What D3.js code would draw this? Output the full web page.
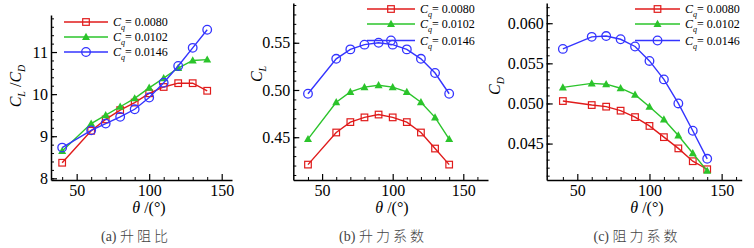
<!DOCTYPE html>
<html>
<head>
<meta charset="utf-8">
<script src="https://cdn.jsdelivr.net/npm/d3@7"></script>
<style>
  body { margin: 0; background: #fff; }
  svg { display: block; }
  .axis path, .axis line { stroke: #000; }
  .serif { font-family: "Liberation Serif", "DejaVu Serif", serif; }
  .axis .tick text { font-family: "Liberation Serif", "DejaVu Serif", serif; font-size: 16px; fill: #000; }
</style>
</head>
<body>
<div id="chart"></div>
<script>
// angles (deg)
const theta = [40, 60, 70, 80, 90, 100, 110, 120, 130, 140];
const cqLabels = ["0.0080", "0.0102", "0.0146"];
const colors = ["#e01b1b", "#2bc42b", "#3434ff"];

// (a) lift-drag ratio
const ldRatio = [
  [8.37, 9.13, 9.40, 9.62, 9.80, 10.02, 10.17, 10.26, 10.26, 10.08],
  [8.65, 9.30, 9.50, 9.70, 9.90, 10.15, 10.38, 10.62, 10.80, 10.82],
  [8.73, 9.14, 9.30, 9.46, 9.64, 9.92, 10.27, 10.67, 11.10, 11.53]
];
// (b) lift coefficient
const liftC = [
  [0.421, 0.455, 0.466, 0.471, 0.474, 0.471, 0.466, 0.455, 0.438, 0.421],
  [0.448, 0.487, 0.498, 0.503, 0.505, 0.503, 0.498, 0.487, 0.471, 0.448],
  [0.496, 0.533, 0.543, 0.548, 0.550, 0.548, 0.543, 0.533, 0.518, 0.496]
];
// (c) drag coefficient
const dragC = [
  [0.0503, 0.0498, 0.0496, 0.0491, 0.0483, 0.0472, 0.0458, 0.0444, 0.0428, 0.0418],
  [0.0520, 0.0525, 0.0524, 0.0519, 0.0511, 0.0496, 0.0480, 0.0460, 0.0438, 0.0416],
  [0.0568, 0.0583, 0.0584, 0.0580, 0.0571, 0.0553, 0.0530, 0.0500, 0.0466, 0.0431]
];

const xTicks = [50, 100, 150];

const svg = d3.select("#chart")
  .append("svg")
  .attr("width", 754)
  .attr("height", 248);

const panels = [
  {
    data: ldRatio, xr: [51, 232], xd: [32.3, 157.1], yr: [180, 15], yd: [7.96, 11.88],
    yTicks: [8, 9, 10, 11], yMinor: 0.2, yFmt: d3.format("d"),
    legend: { x0: 64, x1: 108, ys: [22, 37, 52] },
    ylab: { x: 21, y: 86, main: "L", sub2: "D", ratio: true },
    xlabX: 149, cap: "(a)", capText: "升阻比", capX: 136
  },
  {
    data: liftC, xr: [293.3, 488], xd: [29.6, 167.5], yr: [180, 3], yd: [0.4047, 0.5921],
    yTicks: [0.45, 0.50, 0.55], yMinor: 0.01, yFmt: d3.format(".2f"),
    legend: { x0: 367, x1: 415, ys: [9, 24, 40.5] },
    ylab: { x: 262, y: 74, main: "L" },
    xlabX: 392, cap: "(b)", capText: "升力系数", capX: 383
  },
  {
    data: dragC, xr: [546.7, 741.7], xd: [28.8, 163.9], yr: [180, 3], yd: [0.04046, 0.06252],
    yTicks: [0.045, 0.050, 0.055, 0.060], yMinor: 0.001, yFmt: d3.format(".3f"),
    legend: { x0: 635, x1: 680, ys: [9, 24, 40.5] },
    ylab: { x: 500, y: 86, main: "D" },
    xlabX: 647, cap: "(c)", capText: "阻力系数", capX: 637
  }
];

function drawMarker(g, i, x, y) {
  if (i === 0) {
    g.append("rect").attr("x", x - 3.3).attr("y", y - 3.3).attr("width", 6.6).attr("height", 6.6)
      .attr("fill", "none").attr("stroke", colors[0]).attr("stroke-width", 1.2);
  } else if (i === 1) {
    g.append("path").attr("d", `M${x},${y - 4.2}L${x + 4},${y + 3}L${x - 4},${y + 3}Z`)
      .attr("fill", colors[1]);
  } else {
    g.append("circle").attr("cx", x).attr("cy", y).attr("r", 4.3)
      .attr("fill", "none").attr("stroke", colors[2]).attr("stroke-width", 1.3);
  }
}

panels.forEach(p => {
  const x = d3.scaleLinear().domain(p.xd).range(p.xr);
  const y = d3.scaleLinear().domain(p.yd).range(p.yr);
  const g = svg.append("g");

  // minor ticks
  const xMinor = d3.range(40, 161, 10).filter(v => v > p.xd[0] && v < p.xd[1] && !xTicks.includes(v));
  g.append("g").attr("class", "axis").attr("transform", `translate(0,${p.yr[0]})`)
    .call(d3.axisBottom(x).tickValues(xMinor).tickFormat("").tickSize(-3).tickSizeOuter(0))
    .call(s => s.select(".domain").remove());
  const yMinorVals = d3.range(Math.ceil(p.yd[0] / p.yMinor), Math.floor(p.yd[1] / p.yMinor) + 1)
    .map(k => +(k * p.yMinor).toFixed(5));
  g.append("g").attr("class", "axis").attr("transform", `translate(${p.xr[0]},0)`)
    .call(d3.axisLeft(y).tickValues(yMinorVals).tickFormat("").tickSize(-3).tickSizeOuter(0))
    .call(s => s.select(".domain").remove());

  // major axes
  g.append("g").attr("class", "axis").attr("transform", `translate(0,${p.yr[0]})`)
    .call(d3.axisBottom(x).tickValues(xTicks).tickSize(-6).tickSizeOuter(0).tickPadding(5))
    .call(s => s.select(".domain").attr("stroke-width", 1.5))
    .call(s => s.selectAll(".tick line").attr("stroke-width", 1.2));
  g.append("g").attr("class", "axis").attr("transform", `translate(${p.xr[0]},0)`)
    .call(d3.axisLeft(y).tickValues(p.yTicks).tickFormat(p.yFmt).tickSize(-6).tickSizeOuter(0).tickPadding(3))
    .call(s => s.select(".domain").attr("stroke-width", 1.5))
    .call(s => s.selectAll(".tick line").attr("stroke-width", 1.2));

  // series
  const line = d3.line().x((d, j) => x(theta[j])).y(d => y(d));
  p.data.forEach((vals, i) => {
    g.append("path").datum(vals).attr("d", line)
      .attr("fill", "none").attr("stroke", colors[i]).attr("stroke-width", 1.4);
    vals.forEach((v, j) => drawMarker(g, i, x(theta[j]), y(v)));
  });

  // legend
  const lg = p.legend;
  cqLabels.forEach((lab, i) => {
    const ly = lg.ys[i];
    g.append("line").attr("x1", lg.x0).attr("x2", lg.x1).attr("y1", ly).attr("y2", ly)
      .attr("stroke", colors[i]).attr("stroke-width", 1.4);
    drawMarker(g, i, (lg.x0 + lg.x1) / 2, ly);
    const t = g.append("text").attr("class", "serif").attr("x", lg.x1 + 5).attr("y", ly + 4)
      .attr("font-size", 12);
    t.append("tspan").attr("font-style", "italic").text("C");
    t.append("tspan").attr("font-style", "italic").attr("font-size", 8).attr("dy", 4).text("q");
    t.append("tspan").attr("dy", -4).text("= " + lab);
  });

  // y label
  const yl = g.append("text").attr("class", "serif")
    .attr("transform", `translate(${p.ylab.x},${p.ylab.y}) rotate(-90)`)
    .attr("text-anchor", "middle")
    .attr("font-size", 16);
  yl.append("tspan").attr("font-style", "italic").text("C");
  yl.append("tspan").attr("font-style", "italic").attr("font-size", 10).attr("dy", 4).text(p.ylab.main);
  if (p.ylab.ratio) {
    yl.append("tspan").attr("dy", -4).text(" /");
    yl.append("tspan").attr("font-style", "italic").text("C");
    yl.append("tspan").attr("font-style", "italic").attr("font-size", 10).attr("dy", 4).text(p.ylab.sub2);
  }

  // x label
  const xl = g.append("text").attr("class", "serif").attr("x", p.xlabX).attr("y", 213)
    .attr("text-anchor", "middle").attr("font-size", 16);
  xl.append("tspan").attr("font-style", "italic").text("θ");
  xl.append("tspan").text(" /(°)");

  // caption
  const ct = g.append("text").attr("x", p.capX).attr("y", 241).attr("text-anchor", "middle")
    .attr("font-size", 14).attr("fill", "#444");
  ct.append("tspan").attr("class", "serif").text(p.cap + " ");
  ct.append("tspan").style("font-family", "'Noto Sans CJK SC', sans-serif").attr("font-weight", 300)
    .attr("letter-spacing", 3).text(p.capText);
});
</script>
</body>
</html>
